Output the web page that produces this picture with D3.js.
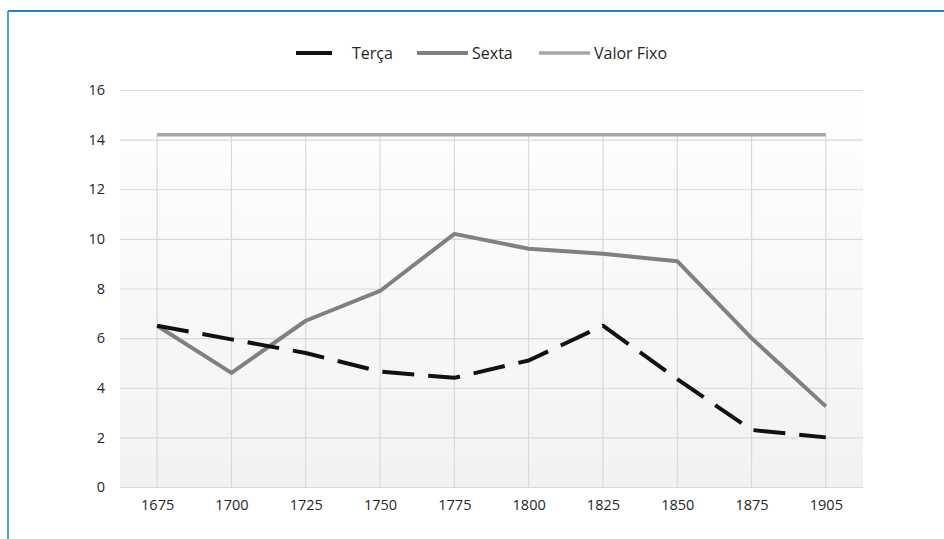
<!DOCTYPE html>
<html>
<head>
<meta charset="utf-8">
<script src="https://cdn.jsdelivr.net/npm/d3@7"></script>
<style>
  body { margin: 0; background: #fff; }
  svg { display: block; font-family: "Open Sans", sans-serif; }
</style>
</head>
<body>
<div id="chart"></div>
<script>
var years = ["1675", "1700", "1725", "1750", "1775", "1800", "1825", "1850", "1875", "1905"];
var terca = [6.5, 5.95, 5.4, 4.65, 4.4, 5.1, 6.5, 4.35, 2.3, 2.0];
var sexta = [6.5, 4.6, 6.7, 7.9, 10.2, 9.6, 9.4, 9.1, 6.0, 3.25];
var valorFixo = [14.2, 14.2, 14.2, 14.2, 14.2, 14.2, 14.2, 14.2, 14.2, 14.2];
var yTicks = [0, 2, 4, 6, 8, 10, 12, 14, 16];
var seriesNames = ["Terça", "Sexta", "Valor Fixo"];

var W = 944, H = 539;
var margin = {top: 90, right: 81, bottom: 52, left: 120},
    width = W - margin.left - margin.right,
    height = H - margin.top - margin.bottom;

var svg = d3.select("#chart").append("svg")
    .attr("width", W)
    .attr("height", H);

// frame
svg.append("line").attr("x1", 8).attr("x2", W).attr("y1", 11).attr("y2", 11)
    .attr("stroke", "#2b7fbf").attr("stroke-width", 2);
svg.append("line").attr("x1", 8).attr("x2", 8).attr("y1", 11).attr("y2", H)
    .attr("stroke", "#4ba2d0").attr("stroke-width", 2);

var defs = svg.append("defs");
var grad = defs.append("linearGradient").attr("id", "bg")
    .attr("x1", 0).attr("y1", 0).attr("x2", 0).attr("y2", 1);
grad.append("stop").attr("offset", "0%").attr("stop-color", "#ffffff");
grad.append("stop").attr("offset", "100%").attr("stop-color", "#f2f2f2");

var x = d3.scalePoint().domain(years).range([0, width]).padding(0.5),
    y = d3.scaleLinear().domain([0, 16]).range([height, 0]);

var g = svg.append("g")
    .attr("transform", "translate(" + margin.left + "," + margin.top + ")");

g.append("rect")
    .attr("width", width).attr("height", height)
    .attr("fill", "url(#bg)");

// horizontal grid
g.append("g")
    .attr("class", "grid")
    .call(d3.axisLeft(y).tickValues(yTicks).tickSize(-width).tickFormat(""))
    .call(function(s) {
        s.select(".domain").remove();
        s.selectAll("line").attr("stroke", "#d9d9d9").attr("stroke-width", 1.2);
    });

// drop lines at each year
g.selectAll(".drop")
    .data(years)
    .enter()
        .append("line")
        .attr("class", "drop")
        .attr("x1", function(d) { return x(d); })
        .attr("x2", function(d) { return x(d); })
        .attr("y1", function(d, i) { return y(valorFixo[i]); })
        .attr("y2", y(0))
        .attr("stroke", "#d9d9d9")
        .attr("stroke-width", 1.2);

// y labels
g.append("g")
    .call(d3.axisLeft(y).tickValues(yTicks).tickSize(0).tickPadding(15))
    .call(function(s) {
        s.select(".domain").remove();
        s.selectAll("text").attr("font-size", 14.5).attr("fill", "#262626")
            .attr("font-family", "Open Sans, sans-serif");
    });

// x labels
g.append("g")
    .attr("transform", "translate(0," + height + ")")
    .call(d3.axisBottom(x).tickSize(0).tickPadding(13))
    .call(function(s) {
        s.select(".domain").remove();
        s.selectAll("text").attr("font-size", 14.5).attr("fill", "#262626")
            .attr("font-family", "Open Sans, sans-serif");
    });

var line = d3.line()
    .x(function(d, i) { return x(years[i]); })
    .y(function(d) { return y(d); });

var styles = [
    {data: terca, color: "#111111", w: 4, dash: "32,14"},
    {data: sexta, color: "#808080", w: 4, dash: null},
    {data: valorFixo, color: "#a6a6a6", w: 3.5, dash: null}
];

styles.slice().reverse().forEach(function(s) {
    g.append("path")
        .datum(s.data)
        .attr("d", line)
        .attr("fill", "none")
        .attr("stroke", s.color)
        .attr("stroke-width", s.w)
        .attr("stroke-dasharray", s.dash)
        .attr("stroke-linejoin", "round");
});

// legend
var legendX = [296, 417, 539];
var legend = svg.append("g").attr("transform", "translate(0,53)");
seriesNames.forEach(function(name, i) {
    var item = legend.append("g").attr("transform", "translate(" + legendX[i] + ",0)");
    item.append("line")
        .attr("x1", 0).attr("x2", i === 0 ? 36 : 51)
        .attr("y1", 0).attr("y2", 0)
        .attr("stroke", styles[i].color)
        .attr("stroke-width", styles[i].w);
    item.append("text")
        .attr("x", i === 0 ? 56 : 55)
        .attr("y", 0)
        .attr("dy", "0.35em")
        .attr("font-size", 16)
        .attr("fill", "#262626")
        .text(name);
});
</script>
</body>
</html>
